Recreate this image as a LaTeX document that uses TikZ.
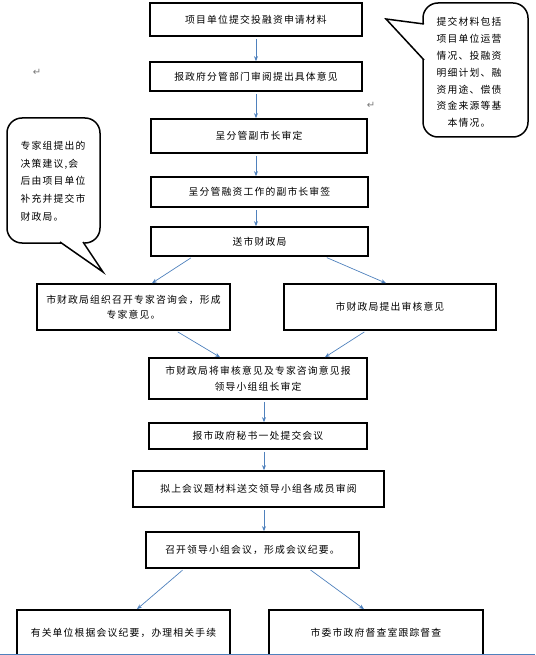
\documentclass[tikz,border=0pt]{standalone}
\usepackage{fontspec}
\newfontfamily\cjk[LetterSpace=12]{Noto Sans CJK SC}
\newfontfamily\simbolo{DejaVu Sans}
\usetikzlibrary{arrows.meta}
\definecolor{Flecha}{RGB}{79, 129, 189}
\definecolor{Marca}{RGB}{120, 120, 120}

\begin{document}
\begin{tikzpicture}[
        x=1pt, y=-1pt,
        paso/.style={
            rectangle,
            draw=black,
            fill=white,
            line width=1.7pt,
            inner sep=0pt,
            align=center,
            font=\cjk\fontsize{9.8}{15.5}\selectfont
        },
        nota/.style={
            inner sep=0pt,
            font=\cjk\fontsize{9.8}{16.8}\selectfont
        },
        globo/.style={
            draw=black,
            line width=1.5pt,
            rounded corners=15pt
        },
        flecha/.style={
            draw=Flecha,
            line width=0.7pt,
            shorten <=2pt,
            -{Stealth[length=5pt, width=4pt]}
        },
        marca/.style={
            inner sep=0pt,
            text=Marca,
            font=\simbolo\fontsize{10}{10}\selectfont
        }
    ]
        \useasboundingbox (0,0) rectangle (535,655);

        % Main steps
        \node[paso, minimum width=212pt, minimum height=33pt] (solicitud) at (256, 19.5) {项目单位提交投融资申请材料};
        \node[paso, minimum width=212pt, minimum height=29pt] (departamento) at (256, 76.5) {报政府分管部门审阅提出具体意见};
        \node[paso, minimum width=216pt, minimum height=34pt] (vicealcalde) at (259, 136) {呈分管副市长审定};
        \node[paso, minimum width=217pt, minimum height=30pt] (firma) at (259.5, 192) {呈分管融资工作的副市长审签};
        \node[paso, minimum width=217pt, minimum height=29pt] (finanzas) at (259.5, 241.5) {送市财政局};

        % Two branches of the finance bureau
        \node[paso, minimum width=193pt, minimum height=46pt] (expertos) at (133.5, 307) {市财政局组织召开专家咨询会，形成\\专家意见。};
        \node[paso, minimum width=212pt, minimum height=46pt] (revision) at (390, 307) {市财政局提出审核意见};

        % Group review and meeting
        \node[paso, minimum width=218pt, minimum height=41pt] (jefe) at (258, 378.5) {市财政局将审核意见及专家咨询意见报\\领导小组组长审定};
        \node[paso, minimum width=218pt, minimum height=26pt] (secretaria) at (258, 436) {报市政府秘书一处提交会议};
        \node[paso, minimum width=251pt, minimum height=36pt] (miembros) at (258.5, 489) {拟上会议题材料送交领导小组各成员审阅};
        \node[paso, minimum width=213pt, minimum height=36pt] (reunion) at (252.5, 550) {召开领导小组会议，形成会议纪要。};

        % Final branches
        \node[paso, minimum width=213pt, minimum height=46pt] (tramites) at (123.5, 633) {有关单位根据会议纪要，办理相关手续};
        \node[paso, minimum width=214pt, minimum height=46pt] (supervision) at (376, 633) {市委市政府督查室跟踪督查};

        % Callout (right)
        \draw[globo] (423, 3) rectangle (528, 137);
        \fill[white] (424.5, 24) -- (386, 19) -- (424.5, 60) -- cycle;
        \draw[line width=1.5pt, line join=miter] (424, 24) -- (386, 19) -- (424, 60);
        \node[nota, align=center] (materiales) at (469, 72.5) {提交材料包括\\项目单位运营\\情况、投融资\\明细计划、融\\资用途、偿债\\资金来源等基\\本情况。};

        % Callout (left)
        \draw[globo] (7, 118) rectangle (100, 243);
        \fill[white] (60, 241.5) -- (103, 272) -- (83, 241.5) -- cycle;
        \draw[line width=1.5pt, line join=miter] (60, 242) -- (103, 272) -- (83, 242);
        \node[nota, align=left, font=\cjk\fontsize{9.8}{17.7}\selectfont] (sugerencia) at (53, 181) {专家组提出的\\决策建议,会\\后由项目单位\\补充并提交市\\财政局。};

        % Paragraph marks
        \node[marca] (retorno1) at (37, 72) {↵};
        \node[marca] (retorno2) at (371, 105) {↵};

        % Connections
        \draw[flecha] (solicitud.south) -- (departamento.north);
        \draw[flecha] (departamento.south) -- (departamento.south |- vicealcalde.north);
        \draw[flecha] (vicealcalde.south -| departamento.south) -- (departamento.south |- firma.north);
        \draw[flecha] (firma.south -| departamento.south) -- (departamento.south |- finanzas.north);
        \draw[flecha] ([xshift=-67pt]finanzas.south) -- ([xshift=18.5pt]expertos.north);
        \draw[flecha] ([xshift=65.5pt]finanzas.south) -- ([xshift=-4pt]revision.north);
        \draw[flecha] ([xshift=42.5pt]expertos.south) -- ([xshift=-38pt]jefe.north);
        \draw[flecha] ([xshift=-24pt]revision.south) -- ([xshift=67pt]jefe.north);
        \draw[flecha] ([xshift=6pt]jefe.south) -- ([xshift=6pt]secretaria.north);
        \draw[flecha] ([xshift=6pt]secretaria.south) -- ([xshift=5.5pt]miembros.north);
        \draw[flecha] ([xshift=5.5pt]miembros.south) -- ([xshift=11.5pt]reunion.north);
        \draw[flecha] ([xshift=-68.5pt]reunion.south) -- ([xshift=13.5pt]tramites.north);
        \draw[flecha] ([xshift=56.5pt]reunion.south) -- ([xshift=-12pt]supervision.north);

        % Page edge
        \draw[draw=Flecha, line width=0.8pt] (0, 654) -- (535, 654);

    \end{tikzpicture}
\end{document}
